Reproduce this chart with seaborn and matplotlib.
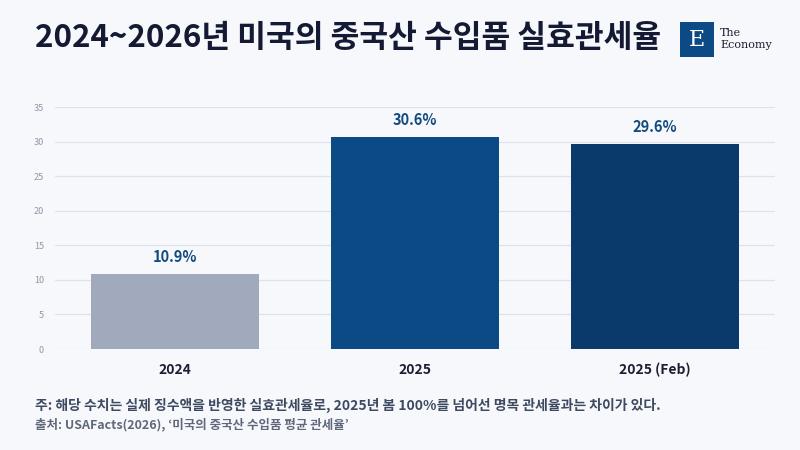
import matplotlib
matplotlib.use("Agg")
import matplotlib.pyplot as plt
import seaborn as sns
import pandas as pd
from matplotlib.patches import Rectangle

# data
categories = ["2024", "2025", "2025 (Feb)"]
tariff_rates = [10.9, 30.6, 29.6]
bar_colors = ["#a1a9bc", "#0c4a86", "#0a396c"]
y_ticks = [0, 5, 10, 15, 20, 25, 30, 35]

title = "2024~2026년 미국의 중국산 수입품 실효관세율"
note = "주: 해당 수치는 실제 징수액을 반영한 실효관세율로, 2025년 봄 100%를 넘어선 명목 관세율과는 차이가 있다."
source = "출처: USAFacts(2026), ‘미국의 중국산 수입품 평균 관세율’"

df = pd.DataFrame({"year": categories, "rate": tariff_rates})

bg = "#f7f8fc"
sns.set_style("white")
plt.rcParams["font.family"] = ["Noto Sans CJK KR", "DejaVu Sans"]

fig = plt.figure(figsize=(8, 4.5), dpi=100, facecolor=bg)
ax = fig.add_axes([0.069, 0.2244, 0.9, 0.5378])
ax.set_facecolor(bg)

sns.barplot(data=df, x="year", y="rate", hue="year", palette=bar_colors,
            width=0.7, legend=False, ax=ax, saturation=1, linewidth=0)

ax.set_ylim(0, 35)
ax.set_xlim(-0.5, 2.5)
ax.set_yticks(y_ticks)
ax.yaxis.grid(True, color="#dfe2ea", linewidth=0.9)
ax.set_axisbelow(True)
for s in ax.spines.values():
    s.set_visible(False)
ax.tick_params(axis="y", length=0, labelsize=6.5, labelcolor="#8f97a8", pad=8)
ax.tick_params(axis="x", length=0, labelsize=10, labelcolor="#1b1f33", pad=10)
for lbl in ax.get_xticklabels():
    lbl.set_fontweight("bold")
ax.set_xlabel("")
ax.set_ylabel("")

for i, v in enumerate(tariff_rates):
    ax.text(i, v + 1.3, f"{v}%", ha="center", va="bottom", fontsize=10.5,
            fontweight="bold", color="#134a80")

# title
fig.text(0.044, 0.915, title, fontsize=22.5, fontweight="bold", color="#141a33",
         va="center", ha="left")

# logo
fig.patches.append(Rectangle((680 / 800, 1 - 57 / 450), 34 / 800, 35 / 450,
                             transform=fig.transFigure, facecolor="#0c4a86",
                             edgecolor="none"))
fig.text(697 / 800, 1 - 40 / 450, "E", family="DejaVu Serif", fontsize=16,
         color="white", ha="center", va="center")
fig.text(720 / 800, 1 - 33 / 450, "The", family="DejaVu Serif", fontsize=8,
         color="#1b1f33", ha="left", va="center")
fig.text(720 / 800, 1 - 45 / 450, "Economy", family="DejaVu Serif", fontsize=8,
         color="#1b1f33", ha="left", va="center")

# notes
fig.text(0.044, 1 - 405 / 450, note, fontsize=10, fontweight="bold",
         color="#3d4a60", ha="left", va="center")
fig.text(0.044, 1 - 425 / 450, source, fontsize=9, fontweight="bold",
         color="#5f6779", ha="left", va="center")

fig.savefig("out.png", dpi=100, facecolor=bg)
